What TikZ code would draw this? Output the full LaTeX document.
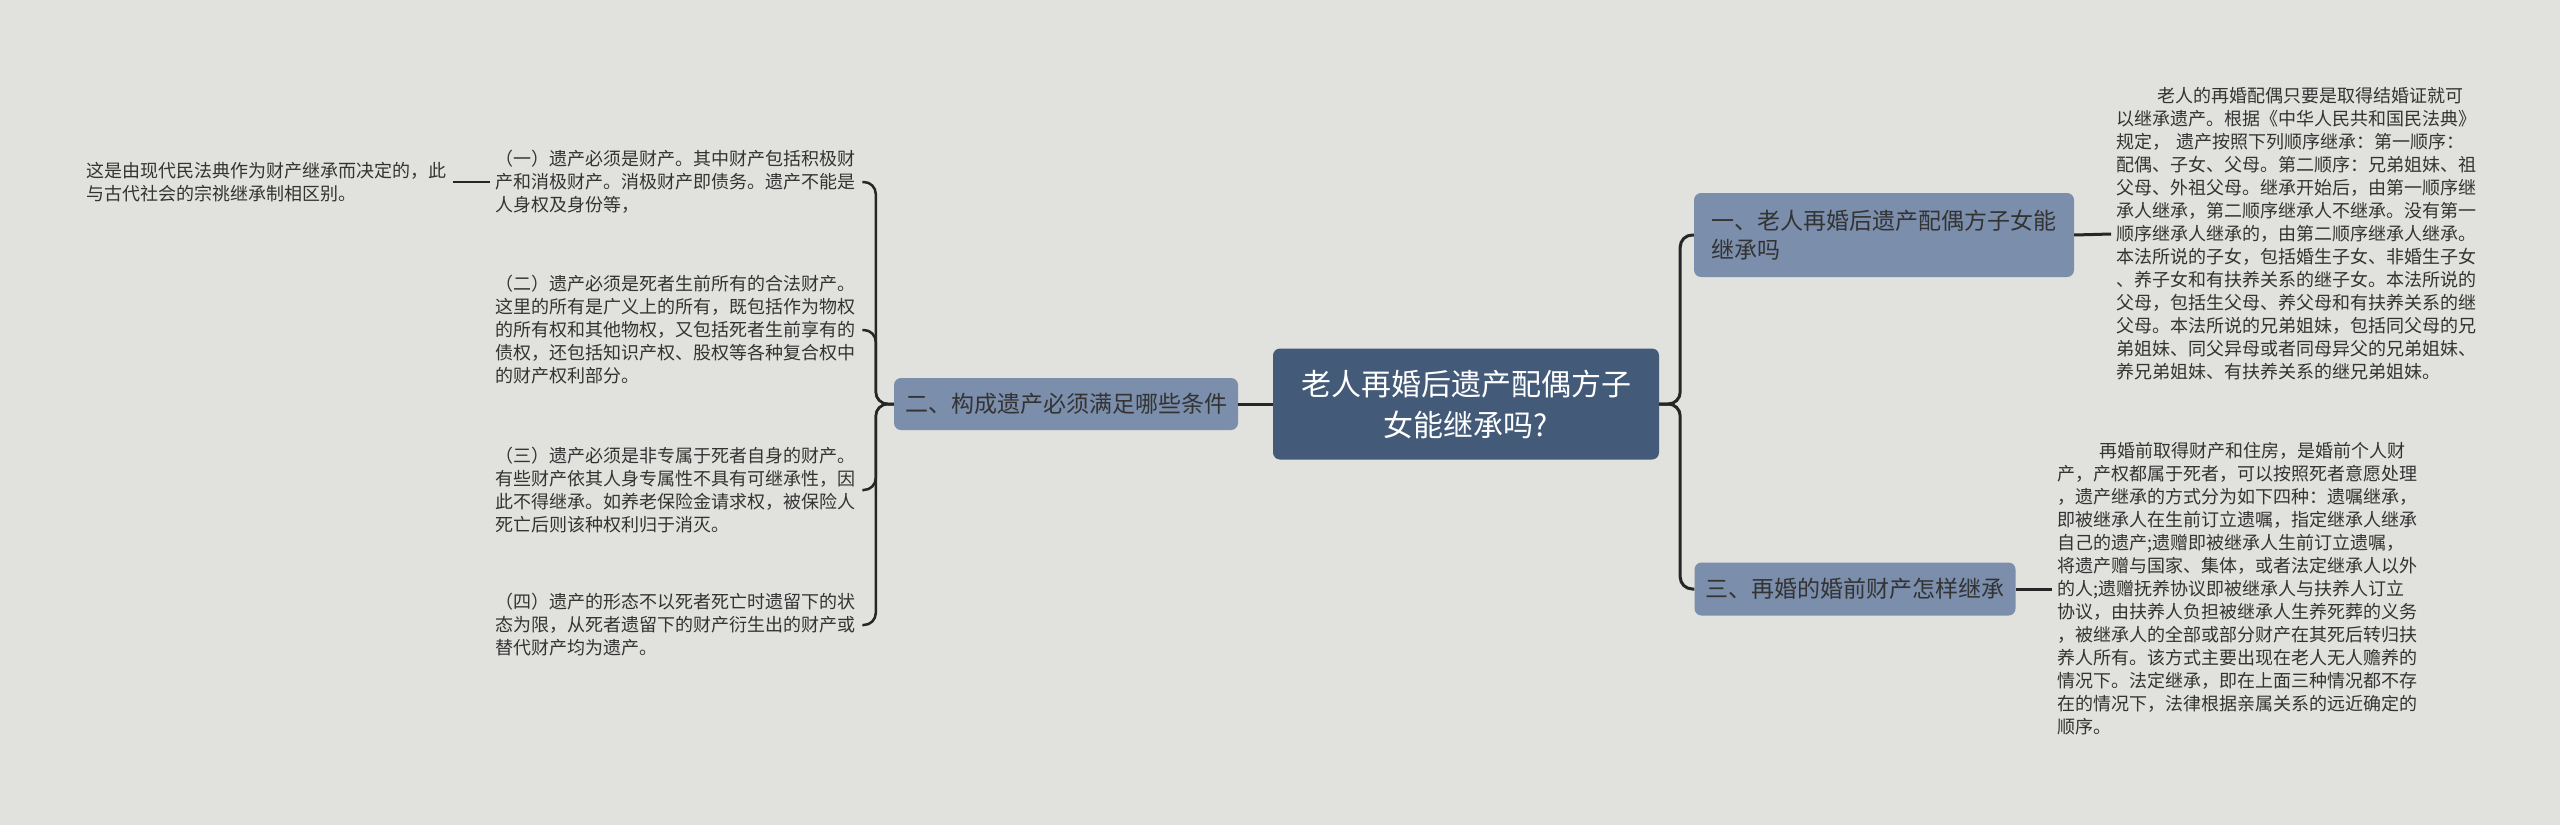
\documentclass[tikz,border=0pt]{standalone}
\usepackage{fontspec}
\newfontfamily\cjk{Noto Sans CJK SC}
\definecolor{bgcol}{HTML}{E1E2DD}
\definecolor{rootcol}{HTML}{435A79}
\definecolor{subcol}{HTML}{7B8EAC}
\definecolor{txtcol}{HTML}{333333}
\definecolor{linecol}{HTML}{262626}
\begin{document}
\begin{tikzpicture}[x=1pt, y=-1pt,
    rootbox/.style={fill=rootcol, rounded corners=7pt, text=white, align=center,
      minimum width=386pt, minimum height=111pt,
      font=\cjk\fontsize{30pt}{41pt}\selectfont},
    subbox/.style={fill=subcol, rounded corners=7pt, text=txtcol, align=left,
      inner xsep=11pt, font=\cjk\fontsize{23pt}{29pt}\selectfont},
    leaf/.style={text=txtcol, align=left, text width=362pt, inner sep=5pt,
      font=\cjk\fontsize{18pt}{23pt}\selectfont},
    conn/.style={draw=linecol, line width=3pt, rounded corners=12pt},
    thinconn/.style={draw=linecol, line width=2.5pt, rounded corners=12pt}]

  \useasboundingbox (0,0) rectangle (2560,825);
  \fill[bgcol] (0,0) rectangle (2560,825);

  % centre and branches
  \node[rootbox] (root) at (1466,404) {老人再婚后遗产配偶方子\\女能继承吗?};
  \node[subbox, minimum width=343pt, minimum height=52pt] (cond) at (1066,404) {二、构成遗产必须满足哪些条件};
  \node[subbox, text width=345pt, minimum width=380pt, minimum height=84pt] (spouse) at (1884,235) {一、老人再婚后遗产配偶方子女能\\继承吗};
  \node[subbox, minimum width=321pt, minimum height=53pt] (prenup) at (1855,589) {三、再婚的婚前财产怎样继承};

  % left leaves
  \node[leaf, anchor=west] (c1) at (490,182) {（一）遗产必须是财产。其中财产包括积极财\\产和消极财产。消极财产即债务。遗产不能是\\人身权及身份等，};
  \node[leaf, anchor=west] (c2) at (490,330) {（二）遗产必须是死者生前所有的合法财产。\\这里的所有是广义上的所有，既包括作为物权\\的所有权和其他物权，又包括死者生前享有的\\债权，还包括知识产权、股权等各种复合权中\\的财产权利部分。};
  \node[leaf, anchor=west] (c3) at (490,490) {（三）遗产必须是非专属于死者自身的财产。\\有些财产依其人身专属性不具有可继承性，因\\此不得继承。如养老保险金请求权，被保险人\\死亡后则该种权利归于消灭。};
  \node[leaf, anchor=west] (c4) at (490,625) {（四）遗产的形态不以死者死亡时遗留下的状\\态为限，从死者遗留下的财产衍生出的财产或\\替代财产均为遗产。};
  \node[leaf, anchor=west] (c1a) at (81,182) {这是由现代民法典作为财产继承而决定的，此\\与古代社会的宗祧继承制相区别。};

  % right leaves
  \node[leaf, anchor=west] (s1) at (2111,234) {\hspace*{41pt}老人的再婚配偶只要是取得结婚证就可\\以继承遗产。根据《中华人民共和国民法典》\\规定， 遗产按照下列顺序继承：第一顺序：\\配偶、子女、父母。第二顺序：兄弟姐妹、祖\\父母、外祖父母。继承开始后，由第一顺序继\\承人继承，第二顺序继承人不继承。没有第一\\顺序继承人继承的，由第二顺序继承人继承。\\本法所说的子女，包括婚生子女、非婚生子女\\、养子女和有扶养关系的继子女。本法所说的\\父母，包括生父母、养父母和有扶养关系的继\\父母。本法所说的兄弟姐妹，包括同父母的兄\\弟姐妹、同父异母或者同母异父的兄弟姐妹、\\养兄弟姐妹、有扶养关系的继兄弟姐妹。};
  \node[leaf, anchor=west] (p1) at (2052,589) {\hspace*{42pt}再婚前取得财产和住房，是婚前个人财\\产，产权都属于死者，可以按照死者意愿处理\\，遗产继承的方式分为如下四种：遗嘱继承，\\即被继承人在生前订立遗嘱，指定继承人继承\\自己的遗产;遗赠即被继承人生前订立遗嘱，\\将遗产赠与国家、集体，或者法定继承人以外\\的人;遗赠抚养协议即被继承人与扶养人订立\\协议，由扶养人负担被继承人生养死葬的义务\\，被继承人的全部或部分财产在其死后转归扶\\养人所有。该方式主要出现在老人无人赡养的\\情况下。法定继承，即在上面三种情况都不存\\在的情况下，法律根据亲属关系的远近确定的\\顺序。};

  % connectors
  \draw[conn] (root.west) -- (cond.east);
  \draw[conn] (root.east) -- ++(21,0) |- (spouse.west);
  \draw[conn] (root.east) -- ++(21,0) |- (prenup.west);
  \foreach \n in {c1,c2,c3,c4}
    \draw[thinconn] (cond.west) -- ++(-18,0) |- (\n.east);
  \draw[thinconn] (c1.west) -- (c1a.east);
  \draw[conn] (spouse.east) -- (s1.west);
  \draw[conn] (prenup.east) -- (p1.west);
\end{tikzpicture}
\end{document}
